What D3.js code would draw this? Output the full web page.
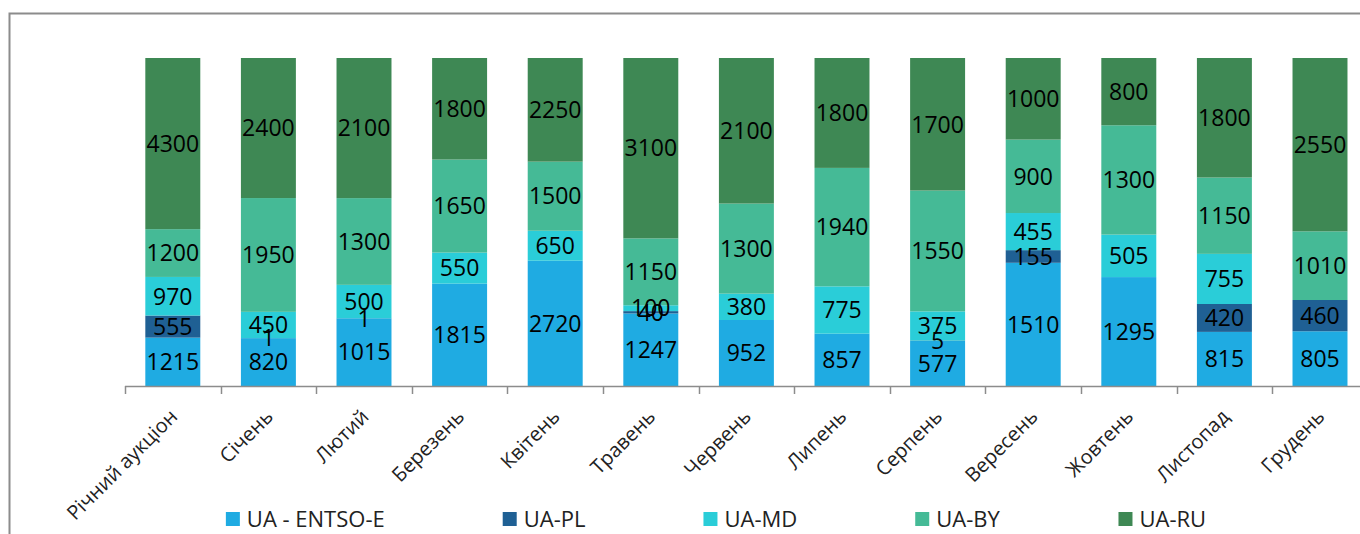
<!DOCTYPE html>
<html>
<head>
<meta charset="utf-8">
<script src="https://cdn.jsdelivr.net/npm/d3@7"></script>
<style>
  html, body { margin: 0; padding: 0; background: #fff; }
  svg { display: block; }
  text { font-family: "Open Sans", "DejaVu Sans", sans-serif; fill: #000; }
</style>
</head>
<body>
<svg id="chart" width="1360" height="534"></svg>
<script>
// Categories: annual auction plus monthly auctions
const categories = ["Річний аукціон", "Січень", "Лютий", "Березень", "Квітень", "Травень",
  "Червень", "Липень", "Серпень", "Вересень", "Жовтень", "Листопад", "Грудень"];

// Allocated capacity by interface (null = no value offered)
const entsoe = [1215, 820, 1015, 1815, 2720, 1247, 952, 857, 577, 1510, 1295, 815, 805];
const pl     = [555, 1, 1, null, null, 40, null, null, 5, 155, null, 420, 460];
const md     = [970, 450, 500, 550, 650, 100, 380, 775, 375, 455, 505, 755, null];
const by     = [1200, 1950, 1300, 1650, 1500, 1150, 1300, 1940, 1550, 900, 1300, 1150, 1010];
const ru     = [4300, 2400, 2100, 1800, 2250, 3100, 2100, 1800, 1700, 1000, 800, 1800, 2550];

const seriesNames = ["UA - ENTSO-E", "UA-PL", "UA-MD", "UA-BY", "UA-RU"];
const seriesValues = [entsoe, pl, md, by, ru];
const seriesColors = ["#1FABE2", "#1F6094", "#2ACDD8", "#45BA96", "#3E8854"];

const svg = d3.select("#chart");

// Chart area frame
svg.append("rect")
  .attr("x", 9.5).attr("y", 13.5)
  .attr("width", 1400).attr("height", 600)
  .attr("fill", "none").attr("stroke", "#8c8c8c").attr("stroke-width", 2);

const plot = { left: 125, top: 58, bottom: 386 };
const step = 95.6;

const x = d3.scaleBand()
  .domain(categories)
  .range([plot.left, plot.left + step * categories.length])
  .paddingInner(0.425).paddingOuter(0.2125);

const y = d3.scaleLinear().domain([0, 1]).range([plot.bottom, plot.top]);

// Build 100% stacked table
const rows = categories.map((c, i) => {
  const r = { cat: c };
  seriesNames.forEach((s, k) => { r[s] = seriesValues[k][i] || 0; });
  r.total = d3.sum(seriesNames, s => r[s]);
  return r;
});
const stack = d3.stack().keys(seriesNames)
  .value((d, key) => d[key] / d.total);
const layers = stack(rows);

const g = svg.append("g");
layers.forEach((layer, k) => {
  g.selectAll(null).data(layer).join("rect")
    .attr("x", d => x(d.data.cat))
    .attr("width", x.bandwidth())
    .attr("y", d => y(d[1]))
    .attr("height", d => Math.max(0, y(d[0]) - y(d[1])))
    .attr("fill", seriesColors[k]);
});

// Value labels centred in each segment
layers.forEach((layer, k) => {
  g.selectAll(null).data(layer.filter((d, i) => seriesValues[k][i] != null))
    .join("text")
    .attr("x", d => x(d.data.cat) + x.bandwidth() / 2)
    .attr("y", d => (y(d[0]) + y(d[1])) / 2)
    .attr("dy", "0.36em")
    .attr("text-anchor", "middle")
    .style("font-size", "23px")
    .text(d => d.data[seriesNames[k]]);
});

// Category axis with ticks between bands
const axisG = svg.append("g");
axisG.append("line")
  .attr("x1", plot.left).attr("x2", 1400)
  .attr("y1", plot.bottom + 0.5).attr("y2", plot.bottom + 0.5)
  .attr("stroke", "#8c8c8c").attr("stroke-width", 1.5);
const tickPos = d3.range(categories.length + 1).map(i => plot.left + i * step);
axisG.selectAll(null).data(tickPos).join("line")
  .attr("x1", d => Math.round(d) + 0.5).attr("x2", d => Math.round(d) + 0.5)
  .attr("y1", plot.bottom).attr("y2", plot.bottom + 8)
  .attr("stroke", "#8c8c8c").attr("stroke-width", 1.5);

axisG.selectAll(null).data(categories).join("text")
  .attr("transform", d => `translate(${x(d) + x.bandwidth() / 2 - 4},${plot.bottom + 22}) rotate(-45)`)
  .attr("text-anchor", "end")
  .attr("dy", "0.7em")
  .style("font-size", "20px")
  .style("fill", "#222")
  .text(d => d);

// Legend laid out in one row, centred
const legend = svg.append("g");
const items = legend.selectAll("g").data(seriesNames).join("g");
items.append("rect")
  .attr("width", 14).attr("height", 14)
  .attr("y", 512)
  .attr("fill", (d, i) => seriesColors[i]);
items.append("text")
  .attr("x", 21).attr("y", 527)
  .style("font-size", "22px")
  .style("fill", "#222")
  .text(d => d);
let cursor = 0;
const gap = 118;
const offsets = [];
items.each(function () {
  offsets.push(cursor);
  cursor += this.getBBox().width + gap;
});
const totalW = cursor - gap;
const startX = 716 - totalW / 2;
items.attr("transform", (d, i) => `translate(${startX + offsets[i]},0)`);
</script>
</body>
</html>
